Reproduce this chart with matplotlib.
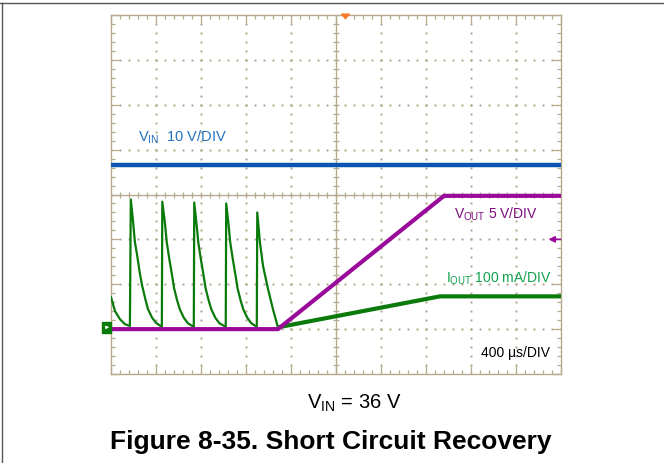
import numpy as np
import matplotlib.pyplot as plt
from matplotlib.lines import Line2D
from matplotlib.patches import Rectangle, Polygon

plt.rcParams['font.family'] = ['Liberation Sans', 'DejaVu Sans']
plt.rcParams['mathtext.fontset'] = 'custom'
plt.rcParams['mathtext.rm'] = 'Liberation Sans'
plt.rcParams['mathtext.it'] = 'Liberation Sans'
plt.rcParams['mathtext.default'] = 'regular'

# Scope capture, time in divisions (400 us/div), levels in divisions from screen centre
VIN_T = [0.0, 10.0]
VIN_LEVEL = [0.65, 0.65]

VOUT_T = [0.0, 3.71, 7.40, 10.0]
VOUT_LEVEL = [-3.0, -3.0, -0.03, -0.03]

IOUT_T = [0.00, 0.09, 0.20, 0.31, 0.42,
          0.44, 0.49, 0.53, 0.58, 0.64, 0.69, 0.76, 0.82, 0.91, 1.00, 1.13,
          1.14, 1.20, 1.24, 1.29, 1.36, 1.40, 1.47, 1.53, 1.62, 1.71, 1.84,
          1.85, 1.90, 1.94, 1.99, 2.06, 2.10, 2.17, 2.23, 2.32, 2.41, 2.55,
          2.56, 2.61, 2.65, 2.70, 2.77, 2.81, 2.88, 2.94, 3.03, 3.12, 3.24,
          3.25, 3.31, 3.38, 3.49, 3.60, 3.71,
          7.31, 10.0]
IOUT_LEVEL = [-2.29, -2.60, -2.78, -2.89, -2.93,
              -0.11, -0.60, -1.05, -1.35, -1.75, -2.02, -2.32, -2.55, -2.74, -2.86, -2.95,
              -0.16, -0.65, -1.07, -1.40, -1.82, -2.08, -2.36, -2.56, -2.75, -2.87, -2.95,
              -0.18, -0.65, -1.07, -1.40, -1.82, -2.08, -2.36, -2.56, -2.75, -2.87, -2.95,
              -0.20, -0.65, -1.07, -1.40, -1.82, -2.08, -2.36, -2.56, -2.75, -2.87, -2.95,
              -0.40, -1.07, -1.60, -2.11, -2.56, -2.96,
              -2.27, -2.27]
SOFT_START = 3.71

TRIGGER_T = 5.21
VOUT_TRIG_LEVEL = -1.0
GROUND_LEVEL = -2.96

TAN = '#B5AA8C'
DOT = '#ADA386'
BLUE = '#0B55B0'
PURPLE = '#9A0A9A'
GREEN = '#0A7A0A'

fig = plt.figure(figsize=(6.64, 4.63), dpi=100)
ax = fig.add_axes([111 / 664, 89 / 463, 450 / 664, 359 / 463])
ax.set_xlim(0, 10)
ax.set_ylim(-4, 4)

# graticule
for s in ax.spines.values():
    s.set_color(TAN)
    s.set_linewidth(1.0)
ax.set_xticks(range(11))
ax.set_yticks(range(-4, 5))
ax.set_xticks(np.arange(0, 10.01, 0.2), minor=True)
ax.set_yticks(np.arange(-4, 4.01, 0.2), minor=True)
ax.tick_params(which='both', direction='in', top=True, right=True, color=TAN,
               width=0.9, labelbottom=False, labelleft=False)
ax.tick_params(which='major', length=6)
ax.tick_params(which='minor', length=3)

minor_x = np.arange(0, 10.01, 0.2)
minor_y = np.arange(-4, 4.01, 0.2)
for gx in [1, 2, 3, 4, 6, 7, 8, 9]:
    ax.plot(np.full_like(minor_y, gx), minor_y, ls='none', marker='s', ms=1.4,
            mew=0, color=DOT, zorder=1)
for gy in [-3, -2, -1, 1, 2, 3]:
    ax.plot(minor_x, np.full_like(minor_x, gy), ls='none', marker='s', ms=1.4,
            mew=0, color=DOT, zorder=1)
ax.axvline(5, color=TAN, lw=1.0, zorder=1)
ax.axhline(0, color=TAN, lw=1.0, zorder=1)
ax.plot(minor_x, np.zeros_like(minor_x), ls='none', marker='|', ms=4.5, mew=0.9,
        color=TAN, zorder=1)
ax.plot(np.full_like(minor_y, 5), minor_y, ls='none', marker='_', ms=4.5, mew=0.9,
        color=TAN, zorder=1)

# traces
ax.plot(VIN_T, VIN_LEVEL, color=BLUE, lw=3.2, solid_capstyle='butt', zorder=3)
t = np.array(IOUT_T)
i_out = np.array(IOUT_LEVEL)
ax.plot(t, i_out, color=GREEN, lw=1.6, zorder=3)
ramp = t >= SOFT_START
ax.plot(t[ramp], i_out[ramp], color=GREEN, lw=3.0, solid_capstyle='butt', zorder=3)
ax.plot(VOUT_T, VOUT_LEVEL, color=PURPLE, lw=3.0, solid_capstyle='butt', zorder=4)

# channel labels
ax.text(0.6, 1.18, r'V$_{IN}$  10 V/DIV', color='#2472BE', fontsize=10.5, va='baseline')
ax.text(7.62, -0.54, r'V$_{OUT}$ 5 V/DIV', color='#7E0A80', fontsize=10, va='baseline')
ax.text(7.44, -1.97, r'I$_{OUT}$ 100 mA/DIV', color='#12A24E', fontsize=10, va='baseline')
ax.text(9.76, -3.62, '400 \u03bcs/DIV', color='black', fontsize=10, va='baseline', ha='right')

# trigger and reference markers
ax.add_patch(Polygon([(TRIGGER_T - 0.09, 4.02), (TRIGGER_T + 0.09, 4.02), (TRIGGER_T, 3.92)],
                     closed=True, color='#FF7A26', clip_on=False, zorder=5))
ax.add_patch(Rectangle((-0.19, GROUND_LEVEL - 0.12), 0.19, 0.24, color=GREEN,
                       clip_on=False, zorder=5))
ax.annotate('', xy=(-0.04, GROUND_LEVEL), xytext=(-0.16, GROUND_LEVEL),
            arrowprops=dict(arrowstyle='-|>', color='white', lw=0.8, mutation_scale=4),
            annotation_clip=False, zorder=6)
ax.annotate('', xy=(9.72, VOUT_TRIG_LEVEL), xytext=(9.99, VOUT_TRIG_LEVEL),
            arrowprops=dict(arrowstyle='-|>', color=PURPLE, lw=1.2, mutation_scale=9,
                            shrinkA=0, shrinkB=0),
            zorder=5)

# captions
fig.text(354 / 664, 1 - 409 / 463, r'V$_{IN}$ = 36 V', fontsize=14.5, ha='center', va='baseline')
fig.text(331 / 664, 1 - 449 / 463, 'Figure 8-35. Short Circuit Recovery', fontsize=19,
         fontweight='bold', ha='center', va='baseline')

# page frame
fig.add_artist(Line2D([0, 1], [1 - 3 / 463, 1 - 3 / 463], transform=fig.transFigure,
                      color='#555555', lw=1.0))
fig.add_artist(Line2D([1.5 / 664, 1.5 / 664], [0, 1 - 3 / 463], transform=fig.transFigure,
                      color='#555555', lw=1.0))

fig.savefig('out.png', dpi=100)
